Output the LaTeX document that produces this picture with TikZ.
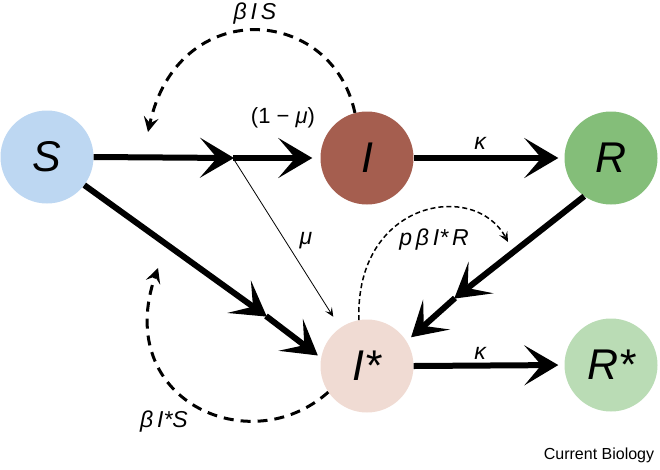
\documentclass[tikz,border=0pt]{standalone}
\usepackage{fontspec}
\setmainfont{Liberation Sans}
\usetikzlibrary{arrows.meta}
\definecolor{cS}{HTML}{BDD7F2}
\definecolor{cI}{HTML}{A55E4F}
\definecolor{cR}{HTML}{84BE79}
\definecolor{cIs}{HTML}{F0DBD3}
\definecolor{cRs}{HTML}{BADCB5}
\begin{document}
\begin{tikzpicture}[x=1pt,y=-1pt,
  state/.style={circle, minimum size=93pt, inner sep=0pt, font=\fontsize{43}{48}\selectfont\itshape},
  flow/.style={line width=6pt, -{Stealth[length=34pt,width=40pt,inset=17pt]}},
  thinflow/.style={line width=0.8pt, -{Stealth[length=9pt,width=8pt,inset=4pt]}},
  bigdash/.style={line width=3pt, dash pattern=on 10pt off 7pt, -{Stealth[length=15pt,width=15pt,inset=6pt]}},
  smalldash/.style={line width=1.5pt, dash pattern=on 5pt off 3pt, -{Stealth[length=10pt,width=9pt,inset=4pt]}},
  lbl/.style={font=\fontsize{23}{26}\selectfont\itshape, inner sep=0pt}
]
\useasboundingbox (0,0) rectangle (660,469);

\node[state, fill=cS]  (S)  at (47,157)  {S};
\node[state, fill=cI]  (I)  at (367,158) {I};
\node[state, fill=cR]  (R)  at (611,158) {R};
\node[state, fill=cIs] (Is) at (367,366) {I*};
\node[state, fill=cRs] (Rs) at (611,365) {R*};

% mid-arrow junctions
\coordinate (j)  at (233,158);
\coordinate (m2) at (266,316);
\coordinate (m3) at (455,298);

% main flows
\draw[flow, shorten >=-1pt] (S.east) -- (j);
\draw[flow, shorten >=8pt] (j) -- (I.west);
\draw[flow, shorten >=-1pt] (S.-37) -- (m2);
\draw[flow, shorten >=4pt] (m2) -- (Is.170);
\draw[flow, shorten >=-1pt] (R.-125) -- (m3);
\draw[flow, shorten >=6pt] (m3) -- (Is.32);
\draw[flow, shorten >=6pt] (I.east) -- (R.west);
\draw[flow, shorten >=6pt] (Is.east) -- (Rs.west);
\draw[thinflow, shorten >=13pt] (j) -- (Is.125);

% infection feedback curves
\coordinate (bisEnd) at (148,132);
\coordinate (bisSEnd) at (158,268);
\coordinate (pbEnd) at (508,242);
\draw[bigdash] (I.105) .. controls (332,5) and (178,-5) .. (bisEnd);
\draw[bigdash] (Is.214) .. controls (250,462) and (112,400) .. (bisSEnd);
\draw[smalldash] (Is.100) .. controls (355,200) and (475,180) .. (pbEnd);

% labels
\node[lbl] (lbis)  at (255,14)  {β\,I\,S};
\node[lbl, font=\fontsize{22}{24}\selectfont] (lmu1) at (283,118) {(1 − \textit{μ})};
\node[lbl] (lmu)   at (306,241) {μ};
\node[lbl] (lk1)   at (480,143) {κ};
\node[lbl] (lk2)   at (480,353) {κ};
\node[lbl] (lpb)   at (434,240) {p\,β\,I*\,R};
\node[lbl] (lbiss) at (164,422) {β\,I*S};
\node[font=\fontsize{16}{18}\selectfont, inner sep=0pt] (cb) at (599,455) {Current Biology};
\end{tikzpicture}
\end{document}
